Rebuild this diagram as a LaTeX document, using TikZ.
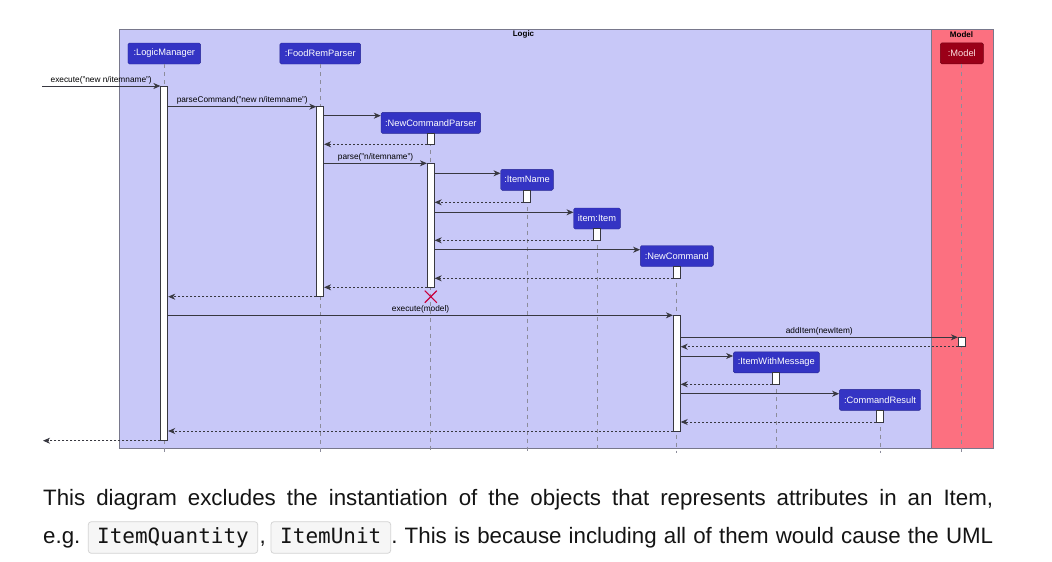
\documentclass[tikz,border=0pt]{standalone}
\usepackage{fontspec}
\setmainfont{Liberation Sans}
\newfontfamily\codefont{DejaVu Sans Mono}
\usetikzlibrary{arrows.meta,shapes.misc}
\definecolor{logicbg}{RGB}{200,200,248}
\definecolor{modelbg}{RGB}{252,112,128}
\definecolor{framecol}{RGB}{120,120,140}
\definecolor{partblue}{RGB}{52,52,196}
\definecolor{partred}{RGB}{154,0,24}
\definecolor{msgcol}{RGB}{56,56,64}
\definecolor{lifecol}{RGB}{140,140,155}
\definecolor{xcol}{RGB}{200,0,60}
\definecolor{codebg}{RGB}{246,246,246}
\definecolor{codeborder}{RGB}{212,212,212}
\definecolor{txt}{RGB}{20,20,20}
\frenchspacing
\tikzset{
  framebox/.style={draw=framecol, line width=0.8pt, inner sep=0pt, anchor=north west},
  ftitle/.style={font=\fontsize{8}{9}\selectfont\bfseries, text=black, inner sep=0pt},
  part/.style={draw=partblue!75!black, fill=partblue, rounded corners=1.5pt, text=white,
    font=\fontsize{9.3}{10}\selectfont, inner sep=0pt, minimum height=21pt},
  partm/.style={part, draw=partred!75!black, fill=partred, text=red!12!white},
  act/.style={draw=msgcol, fill=white, line width=0.8pt, minimum width=7pt, inner sep=0pt},
  life/.style={draw=lifecol, dash pattern=on 4pt off 4pt, line width=0.7pt},
  msg/.style={draw=msgcol, line width=0.8pt, -{Stealth[length=7pt,width=6pt,inset=2.2pt]}},
  ret/.style={msg, dash pattern=on 2pt off 2pt},
  mlabel/.style={font=\fontsize{8.3}{9}\selectfont, text=black, inner sep=0pt, above=1.6pt},
  body/.style={font=\fontsize{22.3}{26}\selectfont, text=txt, inner sep=0pt, anchor=base west},
  code/.style={draw=codeborder, fill=codebg, rounded corners=3pt, line width=0.8pt,
    font=\fontsize{21}{24}\codefont, text=txt, inner sep=0pt, minimum height=31.6pt,
    text height=15.5pt, text depth=4.5pt},
  destroyx/.style={draw=xcol, cross out, line width=1.1pt, minimum size=11pt, inner sep=0pt}
}
\begin{document}
\begin{tikzpicture}[x=1pt,y=-1pt]
\fill[white] (0,0) rectangle (1052,562);
\useasboundingbox (0,0) rectangle (1052,562);
% frames
\node[framebox, fill=logicbg, minimum width=812pt, minimum height=418.4pt] (logicF) at (119.3,29.3) {};
\node[framebox, fill=modelbg, minimum width=61.4pt, minimum height=418.4pt] (modelF) at (931.3,29.3) {};
\node[ftitle] (logicT) at (523.5,34.8) {Logic};
\node[ftitle] (modelT) at (961.5,35) {Model};
% participants
\node[part, minimum width=72.7pt] (lm) at (164.3,53.5) {:LogicManager};
\node[part, minimum width=80.7pt] (fr) at (320.2,53.5) {:FoodRemParser};
\node[part, minimum width=99.6pt] (ncp) at (430.8,122.8) {:NewCommandParser};
\node[part, minimum width=52.6pt] (inm) at (527,179.8) {:ItemName};
\node[part, minimum width=46.6pt] (itm) at (597,218.5) {item:Item};
\node[part, minimum width=73pt] (nc) at (676.8,256) {:NewCommand};
\node[part, minimum width=86pt] (iwm) at (776.3,362.3) {:ItemWithMessage};
\node[part, minimum width=81.4pt] (cr) at (880,399.8) {:CommandResult};
\node[partm, minimum width=43pt] (md) at (961.8,53.3) {:Model};
% lifelines
\foreach \p in {lm,fr,ncp,inm,itm,nc,iwm,cr,md}
  \draw[life] (\p.south) -- (\p.south |- 0,452.7);
% activations
\node[act, minimum height=354.7pt] (lmA) at (lm.center |- 0,263.35) {};
\node[act, minimum height=190pt] (frA) at (fr.center |- 0,201.7) {};
\node[act, minimum height=11pt] (ncpA1) at (ncp.center |- 0,138.8) {};
\node[act, minimum height=124pt] (ncpA2) at (ncp.center |- 0,225.3) {};
\node[act, minimum height=12pt] (inA) at (inm.center |- 0,196.3) {};
\node[act, minimum height=11.6pt] (itA) at (itm.center |- 0,234.5) {};
\node[act, minimum height=12pt] (ncA1) at (nc.center |- 0,272.3) {};
\node[act, minimum height=115.7pt] (ncA2) at (nc.center |- 0,373.15) {};
\node[act, minimum height=9.4pt] (mdA) at (md.center |- 0,342) {};
\node[act, minimum height=12pt] (iwmA) at (iwm.center |- 0,378.3) {};
\node[act, minimum height=12pt] (crA) at (cr.center |- 0,416) {};
% messages
\coordinate (ext1) at (42,86);
\draw[msg] (ext1) -- (lmA.west |- ext1) node[midway, mlabel] {execute("new n/itemname")};
\draw[msg] (lmA.east |- 0,106.7) -- (frA.west |- 0,106.7) node[midway, mlabel] {parseCommand("new n/itemname")};
\draw[msg] (frA.east |- 0,115.7) -- (ncp.west |- 0,115.7);
\draw[ret] (ncpA1.west |- 0,144.3) -- (frA.east |- 0,144.3);
\draw[msg] (frA.east |- 0,163.3) -- (ncpA2.west |- 0,163.3) node[midway, mlabel] {parse("n/itemname")};
\draw[msg] (ncpA2.east |- 0,173.3) -- (inm.west |- 0,173.3);
\draw[ret] (inA.west |- 0,202.3) -- (ncpA2.east |- 0,202.3);
\draw[msg] (ncpA2.east |- 0,212.3) -- (itm.west |- 0,212.3);
\draw[ret] (itA.west |- 0,240.3) -- (ncpA2.east |- 0,240.3);
\draw[msg] (ncpA2.east |- 0,249.7) -- (nc.west |- 0,249.7);
\draw[ret] (ncA1.west |- 0,278.3) -- (ncpA2.east |- 0,278.3);
\draw[ret] (ncpA2.west |- 0,287.3) -- (frA.east |- 0,287.3);
\draw[ret] (frA.west |- 0,296.7) -- (lmA.east |- 0,296.7);
\node[destroyx] (dx) at (ncp.center |- 0,296.7) {};
\draw[msg] (lmA.east |- 0,315.3) -- (ncA2.west |- 0,315.3) node[midway, mlabel] {execute(model)};
\draw[msg] (ncA2.east |- 0,337.3) -- (mdA.west |- 0,337.3) node[midway, mlabel] {addItem(newItem)};
\draw[ret] (mdA.west |- 0,346.7) -- (ncA2.east |- 0,346.7);
\draw[msg] (ncA2.east |- 0,356) -- (iwm.west |- 0,356);
\draw[ret] (iwmA.west |- 0,384.3) -- (ncA2.east |- 0,384.3);
\draw[msg] (ncA2.east |- 0,393.7) -- (cr.west |- 0,393.7);
\draw[ret] (crA.west |- 0,422) -- (ncA2.east |- 0,422);
\draw[ret] (ncA2.west |- 0,431) -- (lmA.east |- 0,431);
\coordinate (ext2) at (43,440.7);
\draw[ret] (lmA.west |- ext2) -- (ext2);
% text below
\node[body] (line1) at (43,505.3) {\makebox[950pt][s]{This diagram excludes the instantiation of the objects that represents attributes in an Item,}};
\node[body] (eg) at (43,543.3) {e.g.};
\node[code, minimum width=169.4pt] (cq) at (173,537.5) {ItemQuantity};
\node[body] (comma) at (259.3,543.3) {,};
\node[code, minimum width=119.7pt] (cu) at (330.8,537.5) {ItemUnit};
\node[body] (line2) at (391.2,543.3) {\makebox[601.8pt][s]{. This is because including all of them would cause the UML}};
\end{tikzpicture}
\end{document}
